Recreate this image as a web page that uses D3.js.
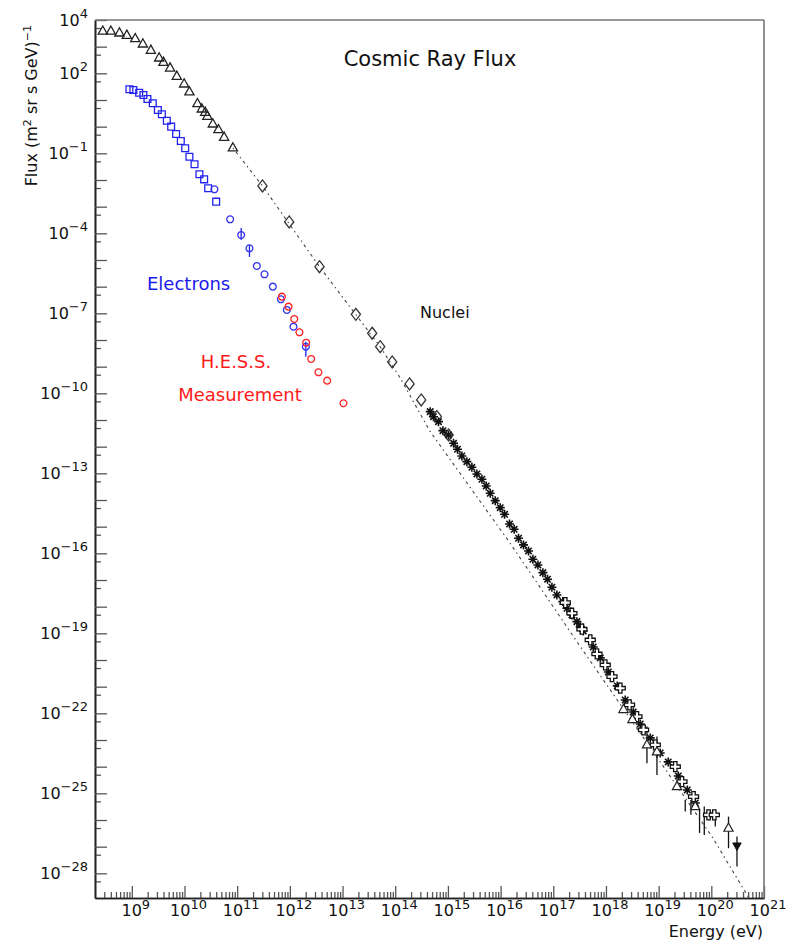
<!DOCTYPE html>
<html>
<head>
<meta charset="utf-8">
<script src="https://cdn.jsdelivr.net/npm/d3@7"></script>
<style>
  body { margin: 0; background: #fff; }
  svg { display: block; }
  text { font-family: "DejaVu Sans", sans-serif; }
</style>
</head>
<body>
<svg id="chart" width="796" height="949"></svg>
<script>
// === Cosmic ray flux vs energy (log-log) ===

// ---- DATA ----
// low energy nuclei (open triangles)
const triE = [2.81e8, 4.0e8, 5.82e8, 8.04e8, 1.16e9, 1.62e9, 2.30e9, 3.30e9, 3.98e9, 5.33e9, 7.14e9,
              9.84e9, 1.24e10, 1.76e10, 2.13e10, 2.47e10, 2.72e10, 3.45e10, 4.41e10, 5.65e10, 8.28e10];
const triF = [3.8e3, 3.8e3, 3.26e3, 2.67e3, 1.99e3, 1.26e3, 731, 376, 259, 158, 77.4,
              39.8, 20.0, 7.28, 4.60, 3.46, 2.45, 1.26, 0.771, 0.40, 0.159];

// direct measurements (open diamonds)
const diaE = [3.02e11, 9.70e11, 3.65e12, 1.79e13, 3.65e13, 5.18e13, 8.75e13, 1.87e14, 3.11e14, 6.18e14, 1.03e15];
const diaF = [5.97e-3, 2.67e-4, 5.6e-6, 9.2e-8, 1.79e-8, 5.6e-9, 1.5e-9, 2.25e-10, 5.65e-11, 1.34e-11, 2.75e-12];

// air shower data (asterisks)
const starE = [4.61e14, 5.32e14, 6.62e14, 8.04e14, 1.03e15, 1.28e15, 1.52e15, 1.84e15, 2.29e15, 2.85e15,
               3.55e15, 4.42e15, 5.33e15, 6.35e15, 7.91e15, 9.84e15, 1.19e16, 1.48e16, 1.81e16, 2.19e16,
               2.72e16, 3.39e16, 4.10e16, 5.11e16, 6.35e16, 7.78e16, 9.42e16, 1.17e17, 1.52e17, 1.82e17,
               2.26e17, 2.81e17, 3.25e17, 3.71e17, 5.74e17, 7.80e17, 1.11e18, 1.64e18, 2.32e18, 3.30e18,
               4.48e18, 6.93e18, 1.07e19, 1.52e19, 2.36e19, 3.50e19, 4.97e19];
const starF = [2.06e-11, 1.33e-11, 8.67e-12, 3.99e-12, 2.75e-12, 1.34e-12, 8.0e-13, 4.49e-13, 2.74e-13, 1.69e-13,
               9.5e-14, 6.0e-14, 3.37e-14, 1.79e-14, 9.46e-15, 5.16e-15, 2.92e-15, 1.26e-15, 8.0e-16, 3.68e-16,
               2.07e-16, 1.23e-16, 6.0e-17, 3.67e-17, 1.89e-17, 1.07e-17, 5.36e-18, 2.75e-18, 1.55e-18, 8.73e-19,
               4.9e-19, 2.75e-19, 1.78e-19, 1.23e-19, 3.09e-20, 1.20e-20, 3.57e-21, 1.07e-21, 3.18e-22, 1.13e-22,
               4.01e-23, 1.20e-23, 3.27e-24, 1.51e-24, 4.50e-25, 1.34e-25, 4.37e-26];

// fluorescence data (open crosses)
const crossE = [1.69e17, 2.26e17, 3.50e17, 5.03e17, 6.74e17, 9.69e17, 1.30e18, 1.87e18, 2.80e18,
                3.87e18, 5.17e18, 8.63e18, 2.07e19, 2.77e19, 4.60e19, 8.87e19, 1.14e20];
const crossF = [1.42e-18, 5.68e-19, 1.43e-19, 5.66e-20, 1.69e-20, 6.54e-21, 2.38e-21, 8.75e-22, 2.07e-22,
                7.54e-23, 2.39e-23, 6.55e-24, 1.0e-24, 2.76e-25, 7.55e-26, 1.56e-26, 1.56e-26];

// highest energy data (open triangles)
const uheE = [2.15e18, 3.18e18, 6.0e18, 9.29e18, 2.23e19, 4.95e19, 2.12e20];
const uheF = [1.39e-22, 5.86e-23, 6.55e-24, 3.57e-24, 1.79e-25, 3.18e-26, 4.92e-27];

// upper limit (filled down triangle)
const limE = [3.07e20];
const limF = [1.01e-27];

// vertical error bars in the UHE region
const errE  = [6.0e18, 9.29e18, 3.2e19, 4.1e19, 5.98e19, 7.35e19, 1.19e20, 2.12e20, 3.07e20];
const errHi = [3.18e-23, 1.34e-23, 5.66e-26, 5.66e-26, 2.39e-26, 3.18e-26, 1.34e-26, 1.34e-26, 2.39e-27];
const errLo = [1.35e-24, 4.91e-25, 2.07e-26, 1.56e-26, 3.28e-27, 2.76e-27, 5.66e-27, 8.77e-28, 1.79e-28];

// electrons: squares and circles
const eSqE = [9.0e8, 1.07e9, 1.38e9, 1.66e9, 1.98e9, 2.50e9, 3.12e9, 3.72e9, 4.62e9, 5.58e9,
              6.93e9, 8.51e9, 1.03e10, 1.24e10, 1.55e10, 1.92e10, 2.36e10, 2.81e10, 3.99e10];
const eSqF = [25.2, 23.7, 18.8, 15.4, 10.9, 7.53, 4.22, 2.91, 1.67, 1.0,
              0.532, 0.290, 0.155, 0.0748, 0.0388, 0.0164, 0.0106, 4.89e-3, 1.54e-3];
const eCirE = [3.70e10, 7.35e10, 1.19e11, 1.71e11, 2.36e11, 3.30e11, 4.75e11, 6.75e11, 8.77e11, 1.17e12, 2.01e12];
const eCirF = [4.49e-3, 3.37e-4, 8.7e-5, 2.75e-5, 5.97e-6, 2.92e-6, 1.0e-6, 3.37e-7, 1.34e-7, 3.16e-8, 5.62e-9];
const eErrE  = [1.19e11, 1.71e11, 2.01e12];
const eErrHi = [1.59e-4, 3.66e-5, 8.67e-9];
const eErrLo = [5.64e-5, 1.30e-5, 2.37e-9];

// H.E.S.S. electrons
const hessE = [7.05e11, 9.4e11, 1.21e12, 1.52e12, 2.04e12, 2.54e12, 3.49e12, 5.11e12, 1.04e13];
const hessF = [4.22e-7, 1.78e-7, 6.15e-8, 1.95e-8, 7.94e-9, 1.95e-9, 6.17e-10, 2.99e-10, 4.25e-11];

// dotted guide line
const fitE = [8.28e10, 3.02e11, 3.65e12, 5.18e13, 1.24e14, 4.61e14, 1.52e16, 3.25e17, 1.03e20, 5.02e20];
const fitF = [0.159, 5.97e-3, 5.6e-6, 5.6e-9, 3.78e-10, 3.66e-12, 2.39e-16, 3.18e-20, 2.39e-27, 1.31e-29];

// axis labels (powers of ten)
const xLabelExp = [9, 10, 11, 12, 13, 14, 15, 16, 17, 18, 19, 20, 21];
const yLabelExp = [4, 2, -1, -4, -7, -10, -13, -16, -19, -22, -25, -28];

// ---- SCALES ----
const svg = d3.select("#chart");
const x = d3.scaleLog().domain([2e8, 1e21]).range([95, 764]);
const y = d3.scaleLog().domain([1.19e-29, 1e4]).range([898, 20]);

// ---- AXES ----
const xMajor = xLabelExp.map(e => Math.pow(10, e));
const xMinor = [];
for (let n = 8; n <= 20; n++) for (let k = 2; k <= 9; k++) {
  const v = k * Math.pow(10, n);
  if (v > 2.01e8 && v < 1e21) xMinor.push(v);
}
const yMajor = [], yMinor = [];
for (let n = -28; n <= 4; n++) yMajor.push(Math.pow(10, n));
for (let n = -29; n <= 3; n++) yMinor.push(5 * Math.pow(10, n));

function styleAxis(g) {
  g.select(".domain").attr("stroke", "#222").attr("stroke-width", 1.6);
  g.selectAll(".tick line").attr("stroke", "#555").attr("stroke-width", 1.3);
}

svg.append("g").attr("transform", "translate(0,898)")
  .call(d3.axisBottom(x).tickValues(xMinor).tickSize(-6).tickSizeOuter(0).tickFormat(""))
  .call(styleAxis);
svg.append("g").attr("transform", "translate(0,898)")
  .call(d3.axisBottom(x).tickValues(xMajor).tickSize(-12).tickSizeOuter(0).tickFormat(""))
  .call(styleAxis);
svg.append("g").attr("transform", "translate(95,0)")
  .call(d3.axisLeft(y).tickValues(yMinor).tickSize(-6).tickSizeOuter(0).tickFormat(""))
  .call(styleAxis);
svg.append("g").attr("transform", "translate(95,0)")
  .call(d3.axisLeft(y).tickValues(yMajor).tickSize(-12).tickSizeOuter(0).tickFormat(""))
  .call(styleAxis);

// top / right frame
svg.append("line").attr("x1", 95).attr("x2", 764).attr("y1", 20).attr("y2", 20)
  .attr("stroke", "#777").attr("stroke-width", 1.6);
svg.append("line").attr("x1", 764).attr("x2", 764).attr("y1", 20).attr("y2", 898)
  .attr("stroke", "#777").attr("stroke-width", 1.6);

// tick labels with superscripts
const sup = e => (e < 0 ? "\u2212" + (-e) : String(e));
const xl = svg.append("g").selectAll("text").data(xLabelExp).join("text")
  .attr("x", d => x(Math.pow(10, d)) + 4).attr("y", 916)
  .attr("text-anchor", "middle").attr("font-size", 16).attr("fill", "#111");
xl.append("tspan").text("10");
xl.append("tspan").attr("dy", -7).attr("font-size", 13).text(d => sup(d));

const yl = svg.append("g").selectAll("text").data(yLabelExp).join("text")
  .attr("x", 88).attr("y", d => y(Math.pow(10, d)) + 6)
  .attr("text-anchor", "end").attr("font-size", 16).attr("fill", "#111");
yl.append("tspan").text("10");
yl.append("tspan").attr("dy", -8).attr("font-size", 13).text(d => sup(d));

// axis titles
const yt = svg.append("text").attr("transform", "translate(37,25) rotate(-90)")
  .attr("text-anchor", "end").attr("font-size", 16).attr("fill", "#111");
yt.append("tspan").text("Flux (m");
yt.append("tspan").attr("dy", -6).attr("font-size", 11).text("2");
yt.append("tspan").attr("dy", 6).text(" sr s GeV)");
yt.append("tspan").attr("dy", -6).attr("font-size", 11).text("\u22121");

svg.append("text").attr("x", 763).attr("y", 937).attr("text-anchor", "end")
  .attr("font-size", 16).attr("fill", "#111").text("Energy (eV)");

// ---- GUIDE LINE ----
svg.append("path")
  .datum(d3.zip(fitE, fitF))
  .attr("d", d3.line().x(d => x(d[0])).y(d => y(d[1])))
  .attr("fill", "none").attr("stroke", "#444").attr("stroke-width", 1.1)
  .attr("stroke-dasharray", "1.5,3.5,3,3.5");

// ---- MARKERS ----
const SHAPES = {
  triUp:   "M0,-5.2L4.6,3L-4.6,3Z",
  triDown: "M-4.2,-3.6L4.2,-3.6L0,4Z",
  square:  "M-3.4,-3.4H3.4V3.4H-3.4Z",
  diamond: "M0,-6L4.6,0L0,6L-4.6,0Z",
  cross:   "M-1.7,-5H1.7V-1.7H5V1.7H1.7V5H-1.7V1.7H-5V-1.7H-1.7Z",
  star:    "M-4.5,0H4.5M0,-4.5V4.5M-3.2,-3.2L3.2,3.2M-3.2,3.2L3.2,-3.2",
  circle:  "M3.4,0A3.4,3.4 0 1,1 -3.4,0A3.4,3.4 0 1,1 3.4,0Z"
};

function errorBars(E, lo, hi, color) {
  svg.append("g").selectAll("line").data(d3.range(E.length)).join("line")
    .attr("x1", i => x(E[i])).attr("x2", i => x(E[i]))
    .attr("y1", i => y(hi[i])).attr("y2", i => y(lo[i]))
    .attr("stroke", color).attr("stroke-width", 1.3);
}

function markers(E, F, shape, stroke, fill, sw) {
  svg.append("g").selectAll("path").data(d3.zip(E, F)).join("path")
    .attr("transform", d => `translate(${x(d[0])},${y(d[1])})`)
    .attr("d", SHAPES[shape])
    .attr("fill", fill).attr("stroke", stroke).attr("stroke-width", sw);
}

errorBars(errE, errLo, errHi, "#111");
errorBars(eErrE, eErrLo, eErrHi, "#2222ee");

markers(triE, triF, "triUp", "#222", "none", 1.3);
markers(diaE, diaF, "diamond", "#333", "none", 1.3);
markers(starE, starF, "star", "#111", "none", 1.6);
markers(crossE, crossF, "cross", "#111", "#fff", 1.3);
markers(uheE, uheF, "triUp", "#222", "#fff", 1.2);
markers(limE, limF, "triDown", "#111", "#111", 1);
markers(eSqE, eSqF, "square", "#2222ee", "none", 1.3);
markers(eCirE, eCirF, "circle", "#3333ee", "none", 1.3);
markers(hessE, hessF, "circle", "#ff2222", "none", 1.3);

// ---- TEXT ----
svg.append("text").attr("x", 430).attr("y", 66).attr("text-anchor", "middle")
  .attr("font-size", 21).attr("fill", "#111").text("Cosmic Ray Flux");
svg.append("text").attr("x", 420).attr("y", 318)
  .attr("font-size", 16).attr("fill", "#111").text("Nuclei");
svg.append("text").attr("x", 147).attr("y", 290)
  .attr("font-size", 18).attr("fill", "#1a1aee").text("Electrons");
svg.append("text").attr("x", 236).attr("y", 368).attr("text-anchor", "middle")
  .attr("font-size", 18).attr("fill", "#ff1a1a").text("H.E.S.S.");
svg.append("text").attr("x", 240).attr("y", 401).attr("text-anchor", "middle")
  .attr("font-size", 18).attr("fill", "#ff1a1a").text("Measurement");
</script>
</body>
</html>
